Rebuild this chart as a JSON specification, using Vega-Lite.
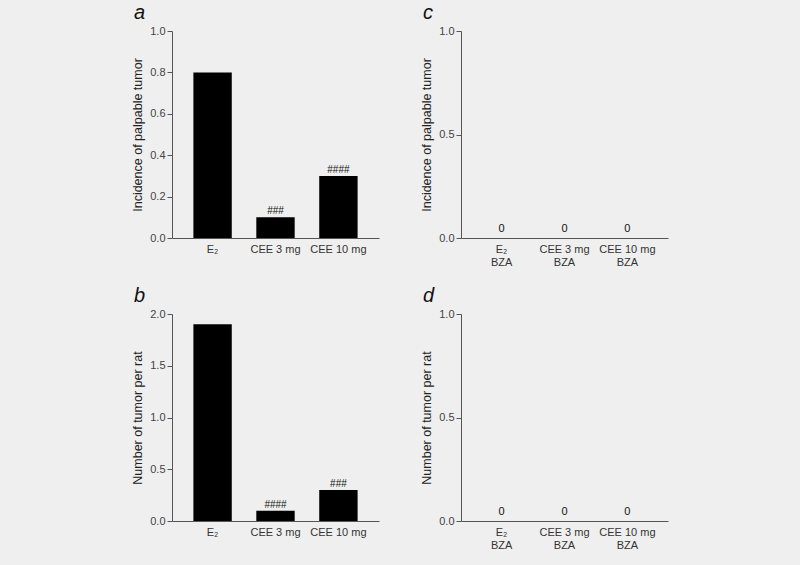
{
  "$schema": "https://vega.github.io/schema/vega-lite/v6.json",
  "background": "#efefef",
  "padding": {"left": 131, "top": 3, "right": 133, "bottom": 15},
  "config": {
    "font": "Liberation Sans",
    "view": {"stroke": null},
    "axisY": {"grid": false, "domainColor": "#555", "tickColor": "#555", "tickSize": 5, "labelFontSize": 11, "labelColor": "#444", "titleFontSize": 12.5, "titleFontWeight": "normal", "titleColor": "#222", "labelPadding": 2, "titlePadding": 5, "format": ".1f"},
    "axisX": {"grid": false, "domainColor": "#555", "ticks": false, "labelFontSize": 11, "labelColor": "#333", "labelAngle": 0, "labelPadding": 5, "title": null, "labelLineHeight": 13},
    "title": {"fontSize": 20, "fontStyle": "italic", "fontWeight": "normal", "anchor": "start", "frame": "group", "dx": -38, "offset": 2, "color": "#111"}
  },
  "datasets": {
    "a": [{"g": "E₂", "v": 0.8, "lab": ""}, {"g": "CEE 3 mg", "v": 0.1, "lab": "###"}, {"g": "CEE 10 mg", "v": 0.3, "lab": "####"}],
    "b": [{"g": "E₂", "v": 1.9, "lab": ""}, {"g": "CEE 3 mg", "v": 0.1, "lab": "####"}, {"g": "CEE 10 mg", "v": 0.3, "lab": "###"}],
    "z": [{"g": "E₂|BZA", "v": 0, "lab": "0"}, {"g": "CEE 3 mg|BZA", "v": 0, "lab": "0"}, {"g": "CEE 10 mg|BZA", "v": 0, "lab": "0"}]
  },
  "concat": [
    {
      "title": "a", "width": 207, "height": 207,
      "data": {"name": "a"},
      "encoding": {
        "x": {"field": "g", "type": "nominal", "sort": null, "scale": {"paddingInner": 0.39, "paddingOuter": 0.34}},
        "y": {"field": "v", "type": "quantitative", "scale": {"domain": [0, 1]}, "axis": {"values": [0, 0.2, 0.4, 0.6, 0.8, 1.0], "title": "Incidence of palpable tumor"}}
      },
      "layer": [
        {"mark": {"type": "bar", "color": "#000"}},
        {"mark": {"type": "text", "baseline": "bottom", "dy": -1, "fontSize": 10, "color": "#111"}, "encoding": {"text": {"field": "lab"}}}
      ]
    },
    {
      "title": "c", "width": 207, "height": 207,
      "data": {"name": "z"},
      "encoding": {
        "x": {"field": "g", "type": "nominal", "sort": null, "scale": {"paddingInner": 0.39, "paddingOuter": 0.34}, "axis": {"labelExpr": "split(datum.label, '|')"}},
        "y": {"field": "v", "type": "quantitative", "scale": {"domain": [0, 1]}, "axis": {"values": [0, 0.5, 1.0], "title": "Incidence of palpable tumor"}}
      },
      "layer": [
        {"mark": {"type": "bar", "color": "#000"}},
        {"mark": {"type": "text", "baseline": "bottom", "dy": -4, "fontSize": 11, "color": "#111"}, "encoding": {"text": {"field": "lab"}}}
      ]
    },
    {
      "title": "b", "width": 207, "height": 207,
      "data": {"name": "b"},
      "encoding": {
        "x": {"field": "g", "type": "nominal", "sort": null, "scale": {"paddingInner": 0.39, "paddingOuter": 0.34}},
        "y": {"field": "v", "type": "quantitative", "scale": {"domain": [0, 2]}, "axis": {"values": [0, 0.5, 1.0, 1.5, 2.0], "title": "Number of tumor per rat"}}
      },
      "layer": [
        {"mark": {"type": "bar", "color": "#000"}},
        {"mark": {"type": "text", "baseline": "bottom", "dy": -1, "fontSize": 10, "color": "#111"}, "encoding": {"text": {"field": "lab"}}}
      ]
    },
    {
      "title": "d", "width": 207, "height": 207,
      "data": {"name": "z"},
      "encoding": {
        "x": {"field": "g", "type": "nominal", "sort": null, "scale": {"paddingInner": 0.39, "paddingOuter": 0.34}, "axis": {"labelExpr": "split(datum.label, '|')"}},
        "y": {"field": "v", "type": "quantitative", "scale": {"domain": [0, 1]}, "axis": {"values": [0, 0.5, 1.0], "title": "Number of tumor per rat"}}
      },
      "layer": [
        {"mark": {"type": "bar", "color": "#000"}},
        {"mark": {"type": "text", "baseline": "bottom", "dy": -4, "fontSize": 11, "color": "#111"}, "encoding": {"text": {"field": "lab"}}}
      ]
    }
  ],
  "columns": 2,
  "spacing": {"row": 19, "column": 41}
}
